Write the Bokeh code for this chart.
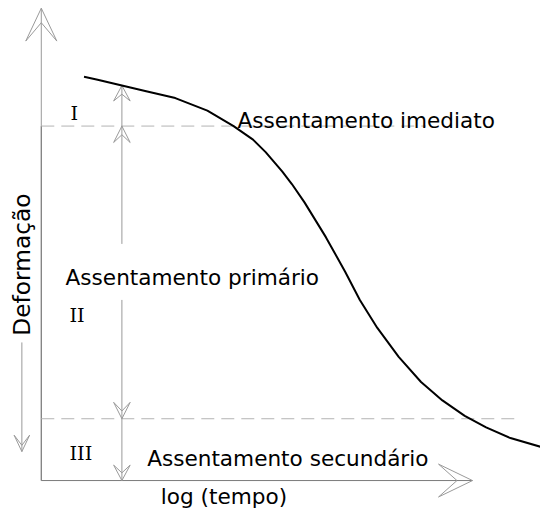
import math
from bokeh.plotting import figure
from bokeh.models import Range1d
from bokeh.core.properties import value
from bokeh.embed import file_html
from bokeh.resources import INLINE

# --- data (diagram units: origin at the corner of the axes) ---
log_tempo = [44, 58, 83, 108, 138, 171, 198, 218, 231, 248, 258, 271, 293, 313, 328,
             346, 368, 391, 413, 436, 458, 483, 514]
deformacao = [418, 415, 409, 403, 396, 383, 367, 353, 340, 320, 307, 288, 252, 216, 187,
              158, 128, 102, 83, 67, 55, 44, 35]

limite_imediato = 367     # end of immediate settlement (upper dashed level)
limite_primario = 64      # end of primary settlement (lower dashed level)
fim_imediato_x = 396      # extent of upper dashed line
fim_primario_x = 487      # extent of lower dashed line
marcador_x = 83           # position of the dimension arrows
eixo_y_max = 489
eixo_x_max = 444

textos = ["Assentamento imediato", "Assentamento primário", "Assentamento secundário"]
textos_x = [202, 25, 109]
textos_y = [373, 210, 23]

numerais = ["I", "II", "III"]
numerais_x = [30, 29, 29]
numerais_y = [380, 171, 28]

rotulo_x = "log (tempo)"
rotulo_y = "Deformação"

GRAY = "#9a9a9a"
DARK = "#7a7a7a"
DASH = "#b4b4b4"

p = figure(width=540, height=510, output_backend="svg", toolbar_location=None,
           x_range=Range1d(-42, 514), y_range=Range1d(-31, 497),
           min_border=0)
p.axis.visible = False
p.grid.visible = False
p.outline_line_color = None
p.background_fill_color = "white"


def head(tx, ty, direction, length, half, notch):
    dx, dy = direction
    px, py = -dy, dx
    bx, by = tx - dx * length, ty - dy * length
    nx, ny = tx - dx * notch, ty - dy * notch
    xs = [tx, bx + px * half, nx, bx - px * half, tx]
    ys = [ty, by + py * half, ny, by - py * half, ty]
    return xs, ys


hx, hy = [], []

# axes
p.line([0, 0], [0, eixo_y_max], line_color=GRAY, line_width=1)
p.line([0, 0], [0, limite_imediato], line_color=DARK, line_width=1)
p.line([0, eixo_x_max], [0, 0], line_color=DARK, line_width=1)
for t in [head(0, eixo_y_max, (0, 1), 34, 16, 15), head(eixo_x_max, 0, (1, 0), 35, 17, 16)]:
    hx.append(t[0]); hy.append(t[1])

# dashed levels
p.line([0, fim_imediato_x], [limite_imediato, limite_imediato], line_color=DASH,
       line_width=1, line_dash="13 7")
p.line([0, fim_primario_x], [limite_primario, limite_primario], line_color=DASH,
       line_width=1, line_dash="13 7")

# dimension arrows
topo = deformacao[log_tempo.index(marcador_x)]
p.line([marcador_x, marcador_x], [245, topo], line_color=GRAY, line_width=1)
p.line([marcador_x, marcador_x], [0, 187], line_color=GRAY, line_width=1)
for t in [head(marcador_x, topo, (0, 1), 16, 8.5, 9),
          head(marcador_x, limite_imediato, (0, 1), 17, 8.5, 9),
          head(marcador_x, limite_primario, (0, -1), 17, 8.5, 8),
          head(marcador_x, 0, (0, -1), 16, 8.5, 8)]:
    hx.append(t[0]); hy.append(t[1])

# Deformação arrow
p.line([-20, -20], [30, 143], line_color=GRAY, line_width=1)
t = head(-20, 30, (0, -1), 17, 8, 6.5)
hx.append(t[0]); hy.append(t[1])

p.multi_line(hx, hy, line_color=GRAY, line_width=1)

# curve
p.line(log_tempo, deformacao, line_color="black", line_width=2, line_join="round")

# texts
p.text(textos_x, textos_y, text=textos, text_font=value("DejaVu Sans"),
       text_font_size=value("21.6px"), text_color="black", text_baseline="alphabetic")
p.text(numerais_x, numerais_y, text=numerais, text_font=value("DejaVu Serif"),
       text_font_size=value("19.3px"), text_color="black", text_baseline="alphabetic")
p.text([123], [-17], text=[rotulo_x], text_font=value("DejaVu Sans"),
       text_font_size=value("21.6px"), text_color="black", text_baseline="alphabetic")
p.text([-20.5], [150], text=[rotulo_y], text_font=value("DejaVu Sans"),
       text_font_size=value("23.3px"), text_color="black", text_baseline="alphabetic",
       angle=math.pi / 2)

open("out.html", "w").write(file_html(p, INLINE))
